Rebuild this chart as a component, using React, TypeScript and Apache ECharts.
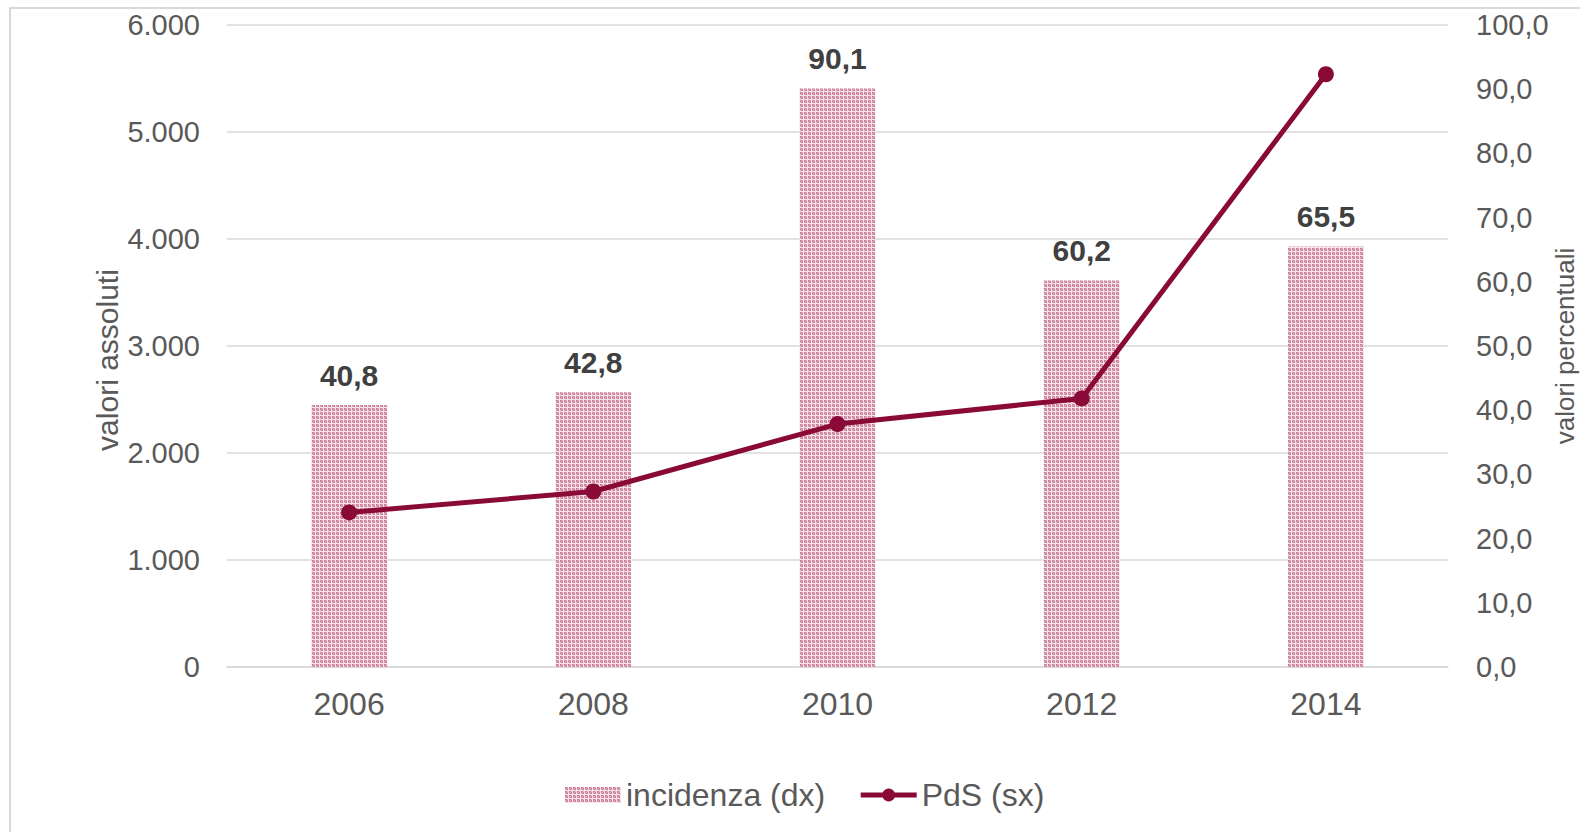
import React, { useEffect, useRef } from "react";
import * as echarts from "echarts";

const categories = ["2006", "2008", "2010", "2012", "2014"];
const incidenza = [40.8, 42.8, 90.1, 60.2, 65.5];
const pds = [1445, 1640, 2270, 2510, 5540];
const leftTicks = { min: 0, max: 6000, interval: 1000 };
const rightTicks = { min: 0, max: 100, interval: 10 };

const FONT = "'Liberation Sans', Arial, sans-serif";
const LINE_COLOR = "#8a0a37";

function makePattern(): HTMLCanvasElement {
  const c = document.createElement("canvas");
  c.width = 4;
  c.height = 4;
  const ctx = c.getContext("2d")!;
  ctx.fillStyle = "#cd7f9c";
  ctx.fillRect(0, 0, 4, 4);
  ctx.fillStyle = "#f5e3ea";
  ctx.fillRect(0, 3, 4, 1);
  ctx.fillRect(3, 0, 1, 4);
  ctx.fillStyle = "#e3b0c2";
  ctx.fillRect(1, 1, 1, 1);
  ctx.fillRect(0, 2, 1, 1);
  ctx.fillRect(2, 0, 1, 1);
  return c;
}

export default function App() {
  const ref = useRef<HTMLDivElement>(null);
  useEffect(() => {
    if (!ref.current) return;
    const chart = echarts.init(ref.current, undefined, { renderer: "svg" });
    const pattern = { image: makePattern(), repeat: "repeat" as const };
    chart.setOption({
      animation: false,
      backgroundColor: "#ffffff",
      textStyle: { fontFamily: FONT },
      graphic: [
        {
          type: "rect",
          shape: { x: 10, y: 8, width: 1700, height: 900 },
          style: { fill: "none", stroke: "#d9d9d9", lineWidth: 2 },
          silent: true,
        },
      ],
      grid: { left: 227, right: 132, top: 25, bottom: 165, outerBoundsMode: "none", containLabel: false },
      legend: {
        bottom: 16,
        left: 560,
        itemGap: 33,
        itemWidth: 56,
        itemHeight: 16,
        textStyle: { fontSize: 32, color: "#595959", fontFamily: FONT },
        data: [
          { name: "incidenza (dx)", icon: "rect" },
          { name: "PdS (sx)", lineStyle: { width: 5, color: LINE_COLOR } },
        ],
      },
      xAxis: {
        type: "category",
        data: categories,
        axisLine: { lineStyle: { color: "#d9d9d9", width: 1.5 } },
        axisTick: { show: false },
        axisLabel: { fontSize: 32, color: "#595959", margin: 21, fontFamily: FONT },
      },
      yAxis: [
        {
          type: "value",
          ...leftTicks,
          name: "valori assoluti",
          nameLocation: "middle",
          nameRotate: 90,
          nameGap: 105,
          nameMoveOverlap: false,
          nameTextStyle: { fontSize: 30, color: "#595959", fontFamily: FONT, padding: [0, 28, 0, 0] },
          axisLine: { show: false },
          axisTick: { show: false },
          splitLine: { lineStyle: { color: "#d9d9d9", width: 1.5 } },
          axisLabel: {
            fontSize: 29,
            color: "#595959",
            margin: 27,
            fontFamily: FONT,
            formatter: (v: number) => v.toLocaleString("de-DE"),
          },
        },
        {
          type: "value",
          ...rightTicks,
          name: "valori percentuali",
          nameLocation: "middle",
          nameRotate: 90,
          nameGap: 104,
          nameMoveOverlap: false,
          nameTextStyle: { fontSize: 26, color: "#595959", fontFamily: FONT },
          axisLine: { show: false },
          axisTick: { show: false },
          splitLine: { show: false },
          axisLabel: {
            fontSize: 29,
            color: "#595959",
            margin: 28,
            fontFamily: FONT,
            formatter: (v: number) => v.toFixed(1).replace(".", ","),
          },
        },
      ],
      series: [
        {
          name: "incidenza (dx)",
          type: "bar",
          yAxisIndex: 1,
          data: incidenza,
          barWidth: 76,
          itemStyle: { color: pattern },
          label: {
            show: true,
            position: "top",
            distance: 15,
            fontSize: 30,
            fontWeight: "bold",
            color: "#404040",
            fontFamily: FONT,
            formatter: (p: any) => p.value.toFixed(1).replace(".", ","),
          },
          z: 1,
        },
        {
          name: "PdS (sx)",
          type: "line",
          yAxisIndex: 0,
          data: pds,
          symbol: "circle",
          symbolSize: 16,
          lineStyle: { color: LINE_COLOR, width: 5 },
          itemStyle: { color: LINE_COLOR },
          z: 3,
        },
      ],
    });
    return () => chart.dispose();
  }, []);
  return (
    <div
      ref={ref}
      style={{ position: "absolute", left: 0, top: 0, width: 1580, height: 832 }}
    />
  );
}
